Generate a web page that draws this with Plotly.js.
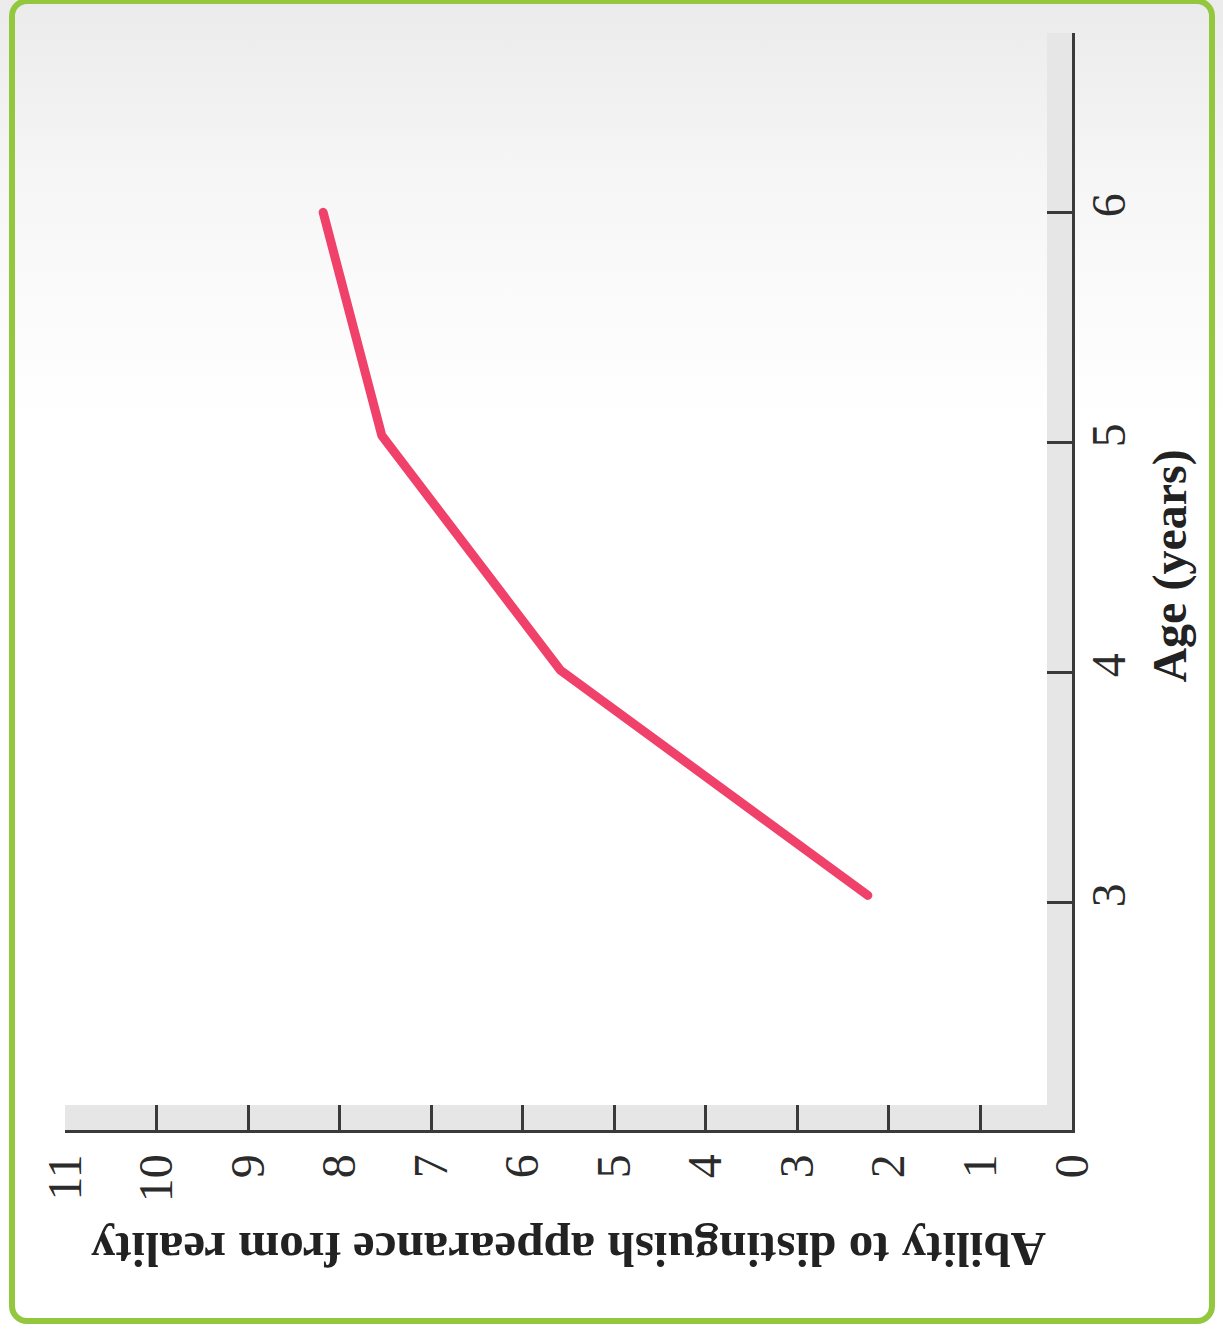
<!DOCTYPE html>
<html>
<head>
<meta charset="utf-8">
<script src="https://cdn.plot.ly/plotly-3.0.1.min.js"></script>
<style>
  html, body { margin: 0; padding: 0; background: #ffffff; }
  #wrap { position: relative; width: 1223px; height: 1337px; overflow: hidden;
          background: linear-gradient(to bottom, #ebebec 0px, #f6f6f6 180px, #ffffff 420px, #ffffff 100%); }
  #chart { position: absolute; left: 0; top: 0; width: 1223px; height: 1337px; }
  #frame { position: absolute; left: 9px; top: -2px; width: 1206px; height: 1326px;
           border: 6px solid #93c83e; border-radius: 18px; pointer-events: none; box-sizing: border-box; }
  .js-line { stroke-linecap: round; stroke-linejoin: round; }
</style>
</head>
<body>
<div id="wrap">
  <div id="chart"></div>
  <div id="frame"></div>
</div>
<script>
// Data (figure is printed rotated: Age runs upward on the right, Ability runs leftward along the bottom)
const ageYears = [3.03, 4.01, 5.03, 6.0];
const abilityScores = [2.23, 5.59, 7.54, 8.18];
const abilityTicks = [0, 1, 2, 3, 4, 5, 6, 7, 8, 9, 10, 11];
const ageTicks = [3, 4, 5, 6];
const abilityTitle = "Ability to distinguish appearance from reality";
const ageTitle = "Age (years)";

const serif = "Liberation Serif, Times New Roman, serif";

const trace = {
  type: "scatter",
  mode: "lines",
  x: abilityScores,
  y: ageYears,
  line: { color: "#f0416a", width: 9 },
  hoverinfo: "skip",
  showlegend: false
};

const layout = {
  width: 1223,
  height: 1337,
  margin: { l: 65, r: 151, t: 33, b: 207 },
  paper_bgcolor: "rgba(0,0,0,0)",
  plot_bgcolor: "rgba(0,0,0,0)",
  showlegend: false,
  xaxis: {
    range: [11, 0],
    tickvals: abilityTicks,
    ticktext: abilityTicks.map(String),
    tickangle: -90,
    ticks: "inside",
    ticklen: 25,
    tickwidth: 3,
    tickcolor: "#3a3a3a",
    showline: true,
    linecolor: "#3a3a3a",
    linewidth: 3,
    showgrid: false,
    zeroline: false,
    ticklabelstandoff: 2,
    tickfont: { family: serif, size: 48, color: "#2b2b2b" },
    fixedrange: true
  },
  yaxis: {
    range: [2.01, 6.78],
    side: "right",
    tickvals: ageTicks,
    ticktext: ageTicks.map(String),
    tickangle: -90,
    ticks: "inside",
    ticklen: 25,
    tickwidth: 3,
    tickcolor: "#3a3a3a",
    showline: true,
    linecolor: "#3a3a3a",
    linewidth: 3,
    showgrid: false,
    zeroline: false,
    ticklabelstandoff: -8,
    tickfont: { family: serif, size: 48, color: "#2b2b2b" },
    fixedrange: true
  },
  shapes: [
    { type: "rect", layer: "below", xref: "paper", yref: "paper",
      x0: 0, x1: 1, ysizemode: "pixel", yanchor: 0, y0: 0, y1: 25,
      fillcolor: "#e6e6e6", line: { width: 0 } },
    { type: "rect", layer: "below", xref: "paper", yref: "paper",
      y0: 0, y1: 1, xsizemode: "pixel", xanchor: 1, x0: -25, x1: 0,
      fillcolor: "#e6e6e6", line: { width: 0 } }
  ],
  annotations: [
    { text: "<b>" + abilityTitle + "</b>", xref: "paper", yref: "paper",
      x: 0.5, y: 0, yshift: -120, textangle: 180, showarrow: false,
      xanchor: "center", yanchor: "middle",
      font: { family: serif, size: 49, color: "#222222" } },
    { text: "<b>" + ageTitle + "</b>", xref: "paper", yref: "y",
      x: 1, xshift: 98, y: 4.46, textangle: -90, showarrow: false,
      xanchor: "center", yanchor: "middle",
      font: { family: serif, size: 48, color: "#222222" } }
  ]
};

Plotly.newPlot("chart", [trace], layout, { displayModeBar: false, staticPlot: true });
</script>
</body>
</html>
